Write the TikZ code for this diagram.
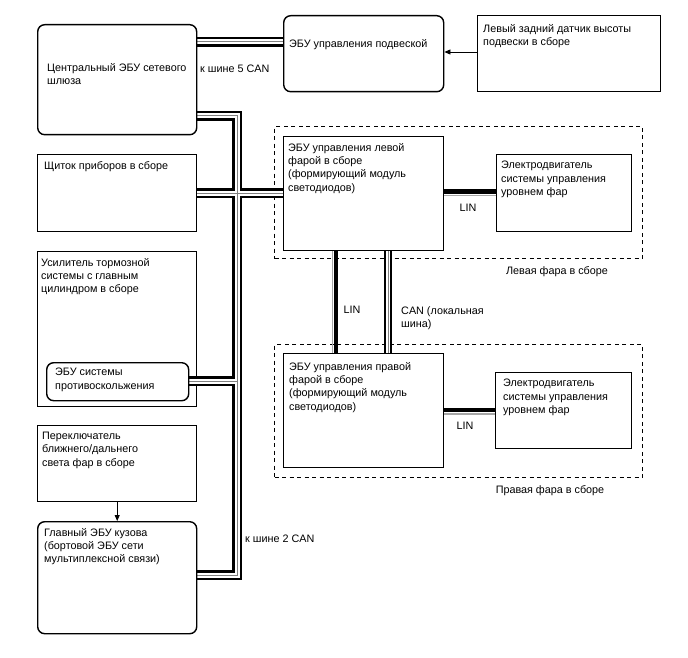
\documentclass[tikz,border=0pt]{standalone}
\usepackage{fontspec}
\setmainfont{Liberation Sans}
\usetikzlibrary{arrows.meta}
\pgfdeclarelayer{bus}
\pgfsetlayers{bus,main}
\begin{document}
\begin{tikzpicture}[x=1pt,y=-1pt,
 box/.style={draw,line width=1.4pt,inner sep=0pt,anchor=north west},
 rbox/.style={box,rounded corners=7pt},
 txt/.style={font=\fontsize{10.8}{13.3}\selectfont,align=left,inner sep=0pt,anchor=north west},
 lbl/.style={font=\fontsize{10.8}{13.3}\selectfont,inner sep=0pt},
 grp/.style={draw,line width=1.4pt,dash pattern=on 4pt off 3.5pt,inner sep=0pt,anchor=north west},
 busk/.style={line width=10pt,black},
 busw/.style={line width=5pt,white},
 busg/.style={line width=1pt,gray},
 lbusk/.style={line width=7.5pt,black},
 lbusw/.style={line width=3.5pt,white},
 lbusg/.style={line width=0.9pt,gray},
 linb/.style={line width=4.5pt,black},
 ling/.style={line width=1.5pt,gray!70},
 arr/.style={line width=0.8pt,-{Triangle[length=6pt,width=5pt]}}
]
\useasboundingbox (0,0) rectangle (688,658);

% boxes
\node[rbox,minimum width=159pt,minimum height=110pt] (gw) at (37,24) {};
\node[rbox,minimum width=160pt,minimum height=76pt] (susp) at (283,15) {};
\node[box,minimum width=183pt,minimum height=76pt] (sens) at (477,15) {};
\node[box,minimum width=159pt,minimum height=77pt] (inst) at (37,154) {};
\node[rbox,minimum width=142pt,minimum height=38pt] (abs) at (46,362) {};
\node[box,minimum width=159pt,minimum height=76pt] (sw) at (37,425) {};
\node[rbox,minimum width=159pt,minimum height=112pt] (body) at (37,521) {};
\node[box,minimum width=160pt,minimum height=114pt] (lecu) at (283,136) {};
\node[box,minimum width=135pt,minimum height=77pt] (lmot) at (496,154) {};
\node[box,minimum width=160pt,minimum height=114pt] (recu) at (283,353) {};
\node[box,minimum width=136pt,minimum height=76pt] (rmot) at (495,372) {};

% junction coordinates
\coordinate (j1) at (237,116);
\coordinate (j2) at (237,193);
\coordinate (j3) at (237,381);
\coordinate (j4) at (237,575);
\coordinate (c5) at (240,42);
\coordinate (cl) at (388,300);
\coordinate (lv) at (336,300);
\coordinate (lvg) at (332.5,300);
\coordinate (l1) at (470,191.5);
\coordinate (l1g) at (470,195.5);
\coordinate (l2) at (470,410);
\coordinate (l2g) at (470,414);
\coordinate (a1) at (460,52);

\begin{pgfonlayer}{bus}
\node[grp,minimum width=368pt,minimum height=132pt] (lgrp) at (274,126) {};
\node[grp,minimum width=368pt,minimum height=133pt] (rgrp) at (274,344) {};
\node[box,minimum width=159pt,minimum height=155pt] (brake) at (37,251) {};
\foreach \s in {busk,busw,busg}{
  \draw[\s] (gw.east |- j1) -- (j1) -- (j4) -- (body.east |- j4);
  \draw[\s] (inst.east |- j2) -- (lecu.west |- j2);
  \draw[\s] (abs.east |- j3) -- (j3);
  \draw[\s] (gw.east |- c5) -- (susp.west |- c5);
}
\foreach \s in {lbusk,lbusw,lbusg}{
  \draw[\s] (lecu.south -| cl) -- (recu.north -| cl);
}
\draw[ling] (lecu.south -| lvg) -- (recu.north -| lvg);
\draw[linb] (lecu.south -| lv) -- (recu.north -| lv);
\draw[ling] (lecu.east |- l1g) -- (lmot.west |- l1g);
\draw[linb] (lecu.east |- l1) -- (lmot.west |- l1);
\draw[ling] (recu.east |- l2g) -- (rmot.west |- l2g);
\draw[linb] (recu.east |- l2) -- (rmot.west |- l2);
\end{pgfonlayer}

% arrows
\draw[arr] (sens.west |- a1) -- (susp.east |- a1);
\draw[arr] (sw.south) -- (body.north);

% texts
\node[txt] (gwt) at (47,63) {Центральный ЭБУ сетевого\\шлюза};
\node[txt] (suspt) at (289,39) {ЭБУ управления подвеской};
\node[txt] (senst) at (483,24) {Левый задний датчик высоты\\подвески в сборе};
\node[txt] (can5) at (200,65) {к шине 5 CAN};
\node[txt] (instt) at (44,161) {Щиток приборов в сборе};
\node[txt] (braket) at (41,258) {Усилитель тормозной\\системы с главным\\цилиндром в сборе};
\node[txt] (abst) at (55,368) {ЭБУ системы\\противоскольжения};
\node[txt] (swt) at (42,432) {Переключатель\\ближнего/дальнего\\света фар в сборе};
\node[txt] (bodyt) at (44,528) {Главный ЭБУ кузова\\(бортовой ЭБУ сети\\мультиплексной связи)};
\node[txt] (lecut) at (288,143) {ЭБУ управления левой\\фарой в сборе\\(формирующий модуль\\светодиодов)};
\node[txt] (recut) at (289,362) {ЭБУ управления правой\\фарой в сборе\\(формирующий модуль\\светодиодов)};
\node[txt] (lmott) at (501,161) {Электродвигатель\\системы управления\\уровнем фар};
\node[txt] (rmott) at (503,379) {Электродвигатель\\системы управления\\уровнем фар};
\node[lbl] (lin1) at (468,208) {LIN};
\node[lbl] (lin2) at (465,426) {LIN};
\node[lbl] (lin3) at (352,310) {LIN};
\node[txt] (canl) at (401,306) {CAN (локальная\\шина)};
\node[lbl] (lgrpt) at (557,272) {Левая фара в сборе};
\node[lbl] (rgrpt) at (550,491) {Правая фара в сборе};
\node[txt] (can2) at (245,535) {к шине 2 CAN};
\end{tikzpicture}
\end{document}
